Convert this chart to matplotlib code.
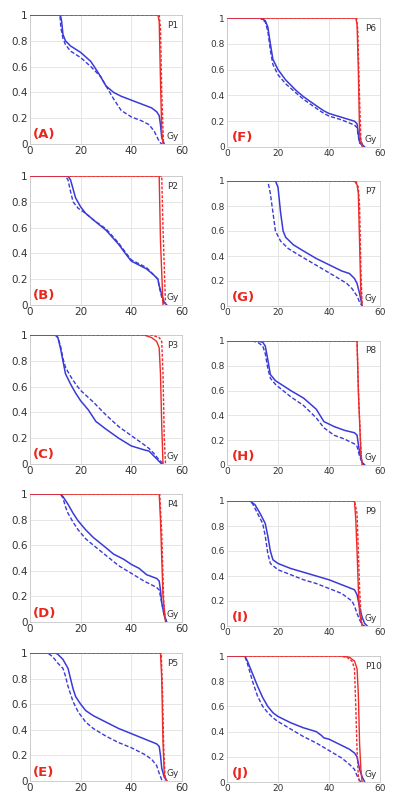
import matplotlib
matplotlib.use("Agg")
import matplotlib.pyplot as plt

# ---------------- data (dose Gy, volume fraction) ----------------
panel_labels = ["(A)", "(B)", "(C)", "(D)", "(E)", "(F)", "(G)", "(H)", "(I)", "(J)"]
patient_names = ["P1", "P2", "P3", "P4", "P5", "P6", "P7", "P8", "P9", "P10"]
x_ticks = [0, 20, 40, 60]
y_ticks = [0, 0.2, 0.4, 0.6, 0.8, 1]
y_tick_labels = ["0", "0.2", "0.4", "0.6", "0.8", "1"]

# P1
P1_blue_solid = [(0,1),(12,1),(12.5,0.95),(13,0.85),(14,0.8),(16,0.76),(20,0.71),(24,0.64),(27,0.55),(30,0.45),(33,0.4),(36,0.37),(40,0.34),(44,0.31),(48,0.28),(50,0.25),(51,0.22),(51.5,0.15),(52,0.05),(53,0)]
P1_blue_dash = [(0,1),(11.8,1),(12.2,0.9),(13,0.82),(14,0.77),(16,0.72),(20,0.67),(24,0.6),(28,0.52),(30,0.45),(33,0.35),(36,0.26),(40,0.21),(44,0.18),(47,0.15),(49,0.1),(50,0.06),(51,0.02),(52,0)]
P1_red_solid = [(0,1),(50.5,1),(51,0.95),(51.5,0.5),(52,0.1),(52.5,0)]
P1_red_dash = [(0,1),(51,1),(51.5,0.9),(52,0.4),(52.7,0)]
# P2
P2_blue_solid = [(0,1),(15,1),(16,0.97),(17,0.9),(18,0.83),(20,0.76),(22,0.71),(25,0.66),(30,0.58),(35,0.47),(38,0.39),(40,0.34),(43,0.31),(46,0.28),(49,0.23),(50.5,0.2),(51,0.15),(52,0.08),(53,0.02),(54,0)]
P2_blue_dash = [(0,1),(14,1),(15,0.97),(16,0.88),(17,0.8),(19,0.75),(22,0.71),(25,0.66),(30,0.59),(35,0.48),(38,0.4),(40,0.35),(43,0.32),(46,0.29),(49,0.23),(50.5,0.2),(51,0.14),(52,0.06),(53,0)]
P2_red_solid = [(0,1),(51,1),(51.5,0.5),(52.5,0)]
P2_red_dash = [(0,1),(52,1),(52.5,0.6),(53.5,0)]
# P3
P3_blue_solid = [(0,1),(10,1),(11,0.98),(12,0.9),(13,0.8),(14,0.7),(16,0.62),(18,0.55),(20,0.49),(23,0.42),(26,0.33),(30,0.27),(35,0.2),(40,0.14),(45,0.11),(47,0.1),(49,0.06),(51,0.02),(52,0)]
P3_blue_dash = [(0,1),(10,1),(11,0.98),(12,0.92),(13,0.82),(14,0.75),(16,0.68),(18,0.62),(20,0.57),(25,0.48),(30,0.38),(35,0.29),(40,0.22),(45,0.15),(47,0.12),(49,0.08),(51,0.03),(53,0)]
P3_red_solid = [(0,1),(45,1),(48,0.98),(50,0.95),(51,0.9),(51.5,0.7),(52,0.3),(52.5,0)]
P3_red_dash = [(0,1),(48,1),(51,0.98),(52,0.95),(52.5,0.7),(53,0.2),(53.5,0)]
# P4
P4_blue_solid = [(0,1),(12,1),(13,0.98),(15,0.92),(17,0.85),(19,0.79),(22,0.72),(25,0.66),(30,0.58),(33,0.53),(37,0.49),(40,0.45),(43,0.42),(46,0.37),(50,0.34),(51,0.32),(51.5,0.25),(52,0.15),(53,0.05),(54,0)]
P4_blue_dash = [(0,1),(12,1),(13,0.97),(14,0.9),(15,0.85),(17,0.78),(19,0.72),(22,0.65),(25,0.6),(30,0.52),(35,0.44),(40,0.38),(45,0.32),(50,0.27),(51,0.25),(52,0.15),(53,0.05),(54,0)]
P4_red_solid = [(0,1),(51,1),(51.5,0.8),(52.5,0.2),(53.5,0)]
P4_red_dash = [(0,1),(51.2,1),(52,0.7),(52.8,0.15),(53.5,0)]
# P5
P5_blue_solid = [(0,1),(10,1),(11,0.99),(13,0.95),(15,0.88),(16,0.8),(17,0.72),(18,0.66),(20,0.6),(22,0.55),(25,0.51),(30,0.46),(35,0.41),(40,0.37),(45,0.33),(50,0.29),(51,0.27),(51.5,0.2),(52,0.1),(53,0.03),(54,0)]
P5_blue_dash = [(0,1),(7,1),(9,0.97),(11,0.92),(13,0.88),(14,0.82),(15,0.74),(17,0.62),(19,0.54),(22,0.46),(25,0.41),(30,0.35),(35,0.3),(40,0.26),(45,0.21),(48,0.17),(50,0.12),(51,0.06),(52,0.01),(53,0)]
P5_red_solid = [(0,1),(51.5,1),(52,0.8),(52.5,0.3),(53,0.05),(54,0)]
P5_red_dash = [(0,1),(51.8,1),(52.3,0.7),(52.8,0.25),(53.3,0.03),(54,0)]
# P6
P6_blue_solid = [(0,1),(13,1),(15,0.98),(16,0.93),(17,0.8),(18,0.68),(20,0.6),(23,0.52),(27,0.44),(30,0.39),(35,0.32),(38,0.28),(40,0.26),(45,0.23),(50,0.2),(51,0.18),(51.5,0.1),(52,0.04),(54,0)]
P6_blue_dash = [(0,1),(13,1),(15,0.97),(16,0.9),(17,0.75),(18,0.64),(20,0.56),(23,0.49),(27,0.42),(30,0.37),(35,0.3),(38,0.26),(40,0.24),(45,0.21),(50,0.17),(51,0.15),(51.5,0.08),(52,0.03),(54,0)]
P6_red_solid = [(0,1),(50.5,1),(51,0.95),(51.5,0.6),(52,0.1),(53,0)]
P6_red_dash = [(0,1),(50.8,1),(51.3,0.9),(51.8,0.5),(52.5,0.05),(53.5,0)]
# P7
P7_blue_solid = [(0,1),(19,1),(20,0.95),(21,0.75),(22,0.6),(23,0.55),(26,0.49),(30,0.44),(35,0.38),(40,0.33),(45,0.28),(48,0.26),(50,0.22),(51,0.18),(52,0.1),(53,0)]
P7_blue_dash = [(0,1),(16,1),(17,0.9),(18,0.75),(19,0.6),(21,0.52),(24,0.46),(28,0.41),(33,0.35),(38,0.29),(43,0.23),(47,0.18),(49,0.14),(51,0.08),(52,0.03),(53,0)]
P7_red_solid = [(0,1),(50,1),(51,0.97),(51.5,0.9),(52,0.5),(52.5,0.1),(53,0)]
P7_red_dash = [(0,1),(50.5,1),(51.5,0.95),(52,0.8),(52.5,0.3),(53,0)]
# P8
P8_blue_solid = [(0,1),(12,1),(14,0.99),(15,0.96),(16,0.85),(17,0.73),(19,0.68),(22,0.64),(25,0.6),(30,0.54),(35,0.45),(38,0.35),(42,0.31),(46,0.28),(50,0.26),(51,0.24),(52,0.1),(53,0.02),(54,0)]
P8_blue_dash = [(0,1),(10,1),(12,0.99),(14,0.96),(15,0.9),(16,0.78),(17,0.7),(19,0.65),(22,0.6),(25,0.55),(30,0.48),(35,0.38),(38,0.3),(42,0.24),(46,0.21),(50,0.17),(51,0.15),(52,0.07),(53,0.02),(54,0)]
P8_red_solid = [(0,1),(51,1),(51.5,0.6),(52.5,0.1),(53,0)]
P8_red_dash = [(0,1),(51,1),(51.7,0.5),(52.7,0.05),(53,0)]
# P9
P9_blue_solid = [(0,1),(9,1),(11,0.97),(13,0.9),(15,0.82),(16,0.72),(17,0.6),(18,0.53),(20,0.5),(25,0.46),(30,0.43),(35,0.4),(40,0.37),(45,0.33),(50,0.29),(51,0.25),(52,0.15),(53,0.07),(54,0.02),(55,0)]
P9_blue_dash = [(0,1),(9,1),(10,0.98),(12,0.9),(14,0.82),(15,0.72),(16,0.58),(17,0.5),(20,0.45),(25,0.41),(30,0.37),(35,0.34),(40,0.3),(45,0.26),(49,0.2),(50,0.16),(51,0.1),(52,0.05),(53,0.01),(54,0)]
P9_red_solid = [(0,1),(50,1),(50.5,0.85),(51,0.6),(51.5,0.3),(52,0.1),(53,0)]
P9_red_dash = [(0,1),(50,1),(51,0.9),(51.5,0.6),(52,0.3),(52.5,0.1),(53,0)]
# P10
P10_blue_solid = [(0,1),(7,1),(8,0.96),(10,0.86),(12,0.76),(14,0.67),(16,0.6),(18,0.55),(20,0.52),(25,0.47),(30,0.43),(35,0.4),(37,0.37),(38,0.35),(40,0.34),(45,0.29),(48,0.26),(50,0.23),(51,0.2),(52,0.1),(53,0.04),(54,0)]
P10_blue_dash = [(0,1),(7,1),(8,0.94),(10,0.8),(12,0.68),(14,0.6),(16,0.55),(18,0.51),(20,0.48),(25,0.42),(30,0.36),(35,0.31),(40,0.25),(45,0.19),(48,0.14),(50,0.1),(51,0.05),(52,0.01),(53,0)]
P10_red_solid = [(0,1),(45,1),(48,0.99),(50,0.96),(51,0.9),(51.5,0.7),(52,0.3),(52.5,0.1),(53,0)]
P10_red_dash = [(0,1),(44,1),(47,0.99),(49,0.96),(50,0.9),(50.5,0.6),(51,0.25),(51.5,0.05),(52,0)]

curves = [
    (P1_blue_solid, P1_blue_dash, P1_red_solid, P1_red_dash),
    (P2_blue_solid, P2_blue_dash, P2_red_solid, P2_red_dash),
    (P3_blue_solid, P3_blue_dash, P3_red_solid, P3_red_dash),
    (P4_blue_solid, P4_blue_dash, P4_red_solid, P4_red_dash),
    (P5_blue_solid, P5_blue_dash, P5_red_solid, P5_red_dash),
    (P6_blue_solid, P6_blue_dash, P6_red_solid, P6_red_dash),
    (P7_blue_solid, P7_blue_dash, P7_red_solid, P7_red_dash),
    (P8_blue_solid, P8_blue_dash, P8_red_solid, P8_red_dash),
    (P9_blue_solid, P9_blue_dash, P9_red_solid, P9_red_dash),
    (P10_blue_solid, P10_blue_dash, P10_red_solid, P10_red_dash),
]

# ---------------- layout (pixel boxes: left, right, top, bottom) ----------------
W, H = 400, 808
boxes = [
    (30, 182, 15, 144), (30, 182, 176, 305), (30, 182, 335, 464),
    (30, 182, 494, 622), (30, 182, 653, 781),
    (227, 380, 18, 147), (227, 380, 181, 306), (227, 380, 341, 465),
    (227, 380, 501, 626), (227, 380, 656, 782),
]
tick_sizes = [7.5] * 5 + [6.5] * 5

BLUE = "#3a3ad8"
RED = "#ee2a2a"

fig = plt.figure(figsize=(W / 100, H / 100), dpi=100)
for i, (l, r, t, b) in enumerate(boxes):
    ax = fig.add_axes([l / W, 1 - b / H, (r - l) / W, (b - t) / H])
    bs, bd, rs, rd = curves[i]
    ax.plot([p[0] for p in bs], [p[1] for p in bs], color=BLUE, lw=1.1, zorder=3)
    ax.plot([p[0] for p in bd], [p[1] for p in bd], color=BLUE, lw=1.0, ls=(0, (3, 1.5)), zorder=3)
    ax.plot([p[0] for p in rs], [p[1] for p in rs], color=RED, lw=1.0, zorder=4)
    ax.plot([p[0] for p in rd], [p[1] for p in rd], color=RED, lw=1.0, ls=(0, (2, 1.2)), zorder=4)
    ax.set_xlim(0, 60)
    ax.set_ylim(0, 1)
    ax.set_xticks(x_ticks)
    ax.set_yticks(y_ticks)
    ax.set_yticklabels(y_tick_labels)
    ax.grid(True, color="#e2e2e2", lw=0.6)
    ax.set_axisbelow(True)
    ax.tick_params(length=0, labelsize=tick_sizes[i], colors="#333333", pad=1.5)
    for s in ax.spines.values():
        s.set_color("#c8c8c8")
        s.set_linewidth(0.6)
    lx = 1.0 if i < 5 else 2.0
    ax.text(lx, 0.07, panel_labels[i], color="#e8281e", fontsize=9.5, fontweight="bold",
            ha="left", va="center", zorder=5)
    ax.text(54.0, 0.92, patient_names[i], color="#333333", fontsize=6.5, ha="left", va="center", zorder=5)
    ax.text(53.8, 0.06, "Gy", color="#333333", fontsize=6.5, ha="left", va="center", zorder=5)

fig.savefig("out.png", dpi=100)
